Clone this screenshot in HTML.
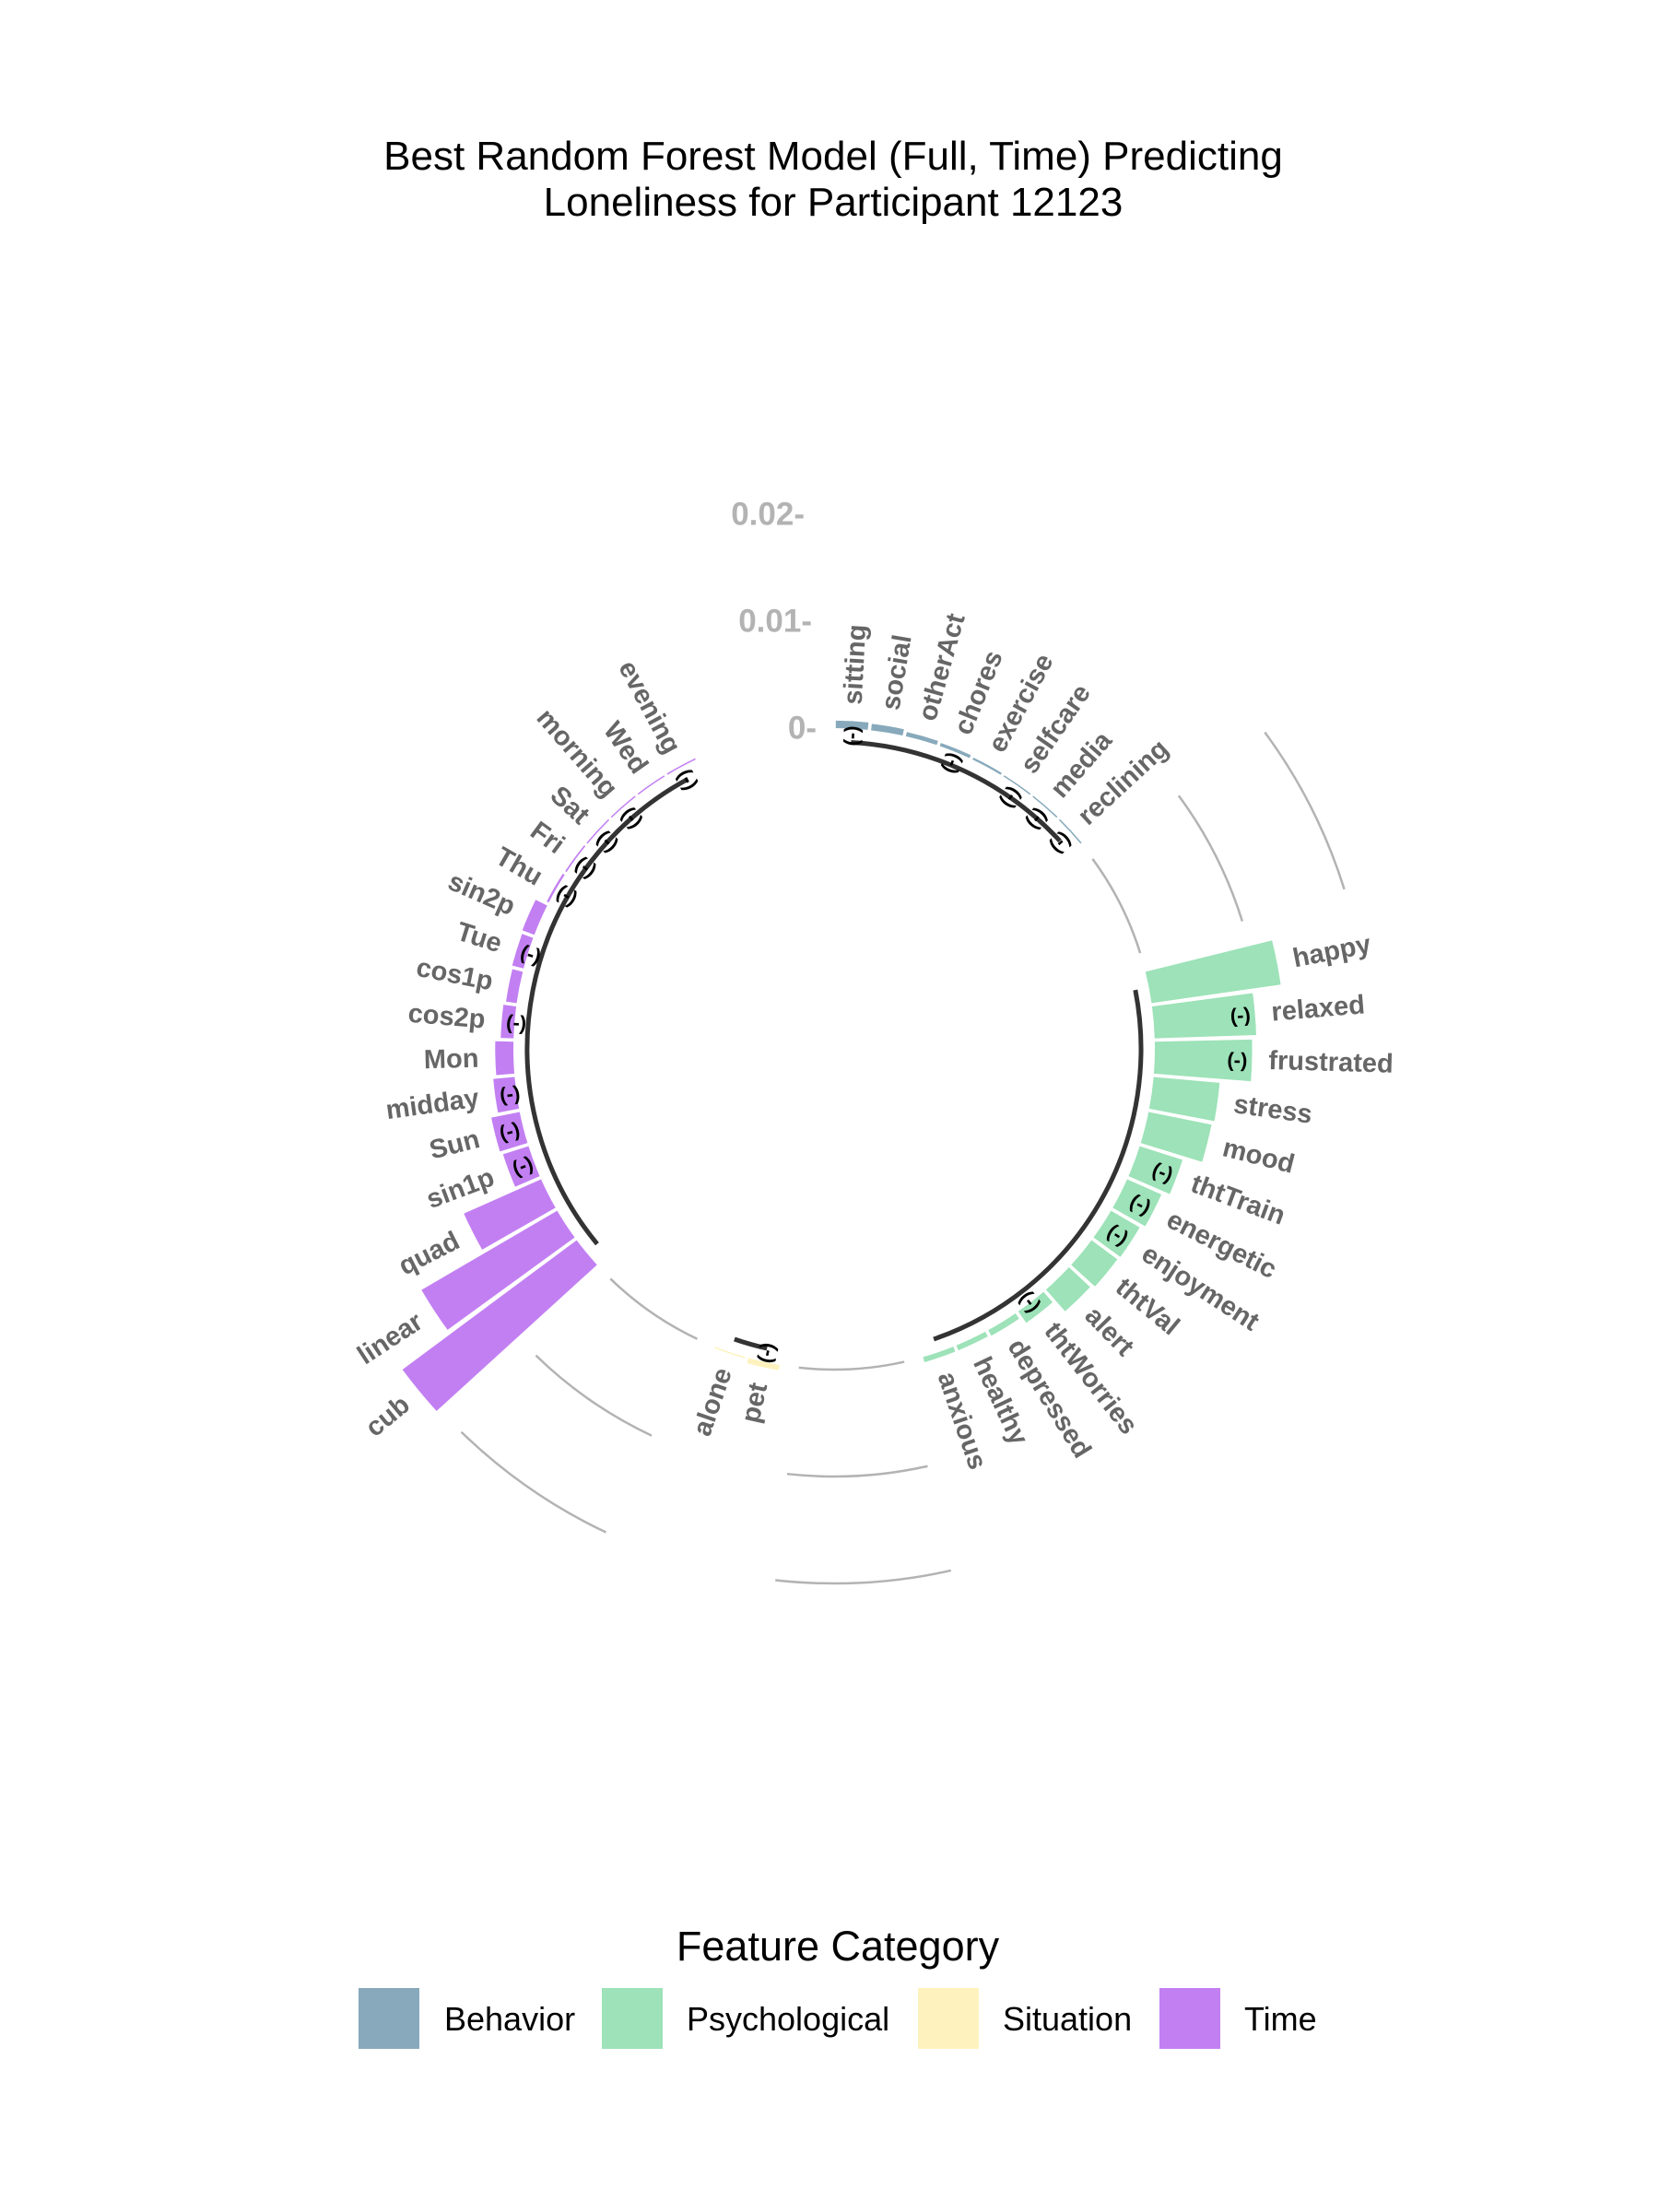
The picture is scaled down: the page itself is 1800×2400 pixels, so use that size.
<!DOCTYPE html>
<html>
<head>
<meta charset="utf-8">
<style>
  html, body { margin: 0; padding: 0; background: #ffffff; }
  svg { display: block; }
  text { font-family: "Liberation Sans", "DejaVu Sans", sans-serif; }
</style>
</head>
<body>
<svg id="chart" width="1800" height="2400" viewBox="0 0 1800 2400" xmlns="http://www.w3.org/2000/svg">
  <rect x="0" y="0" width="1800" height="2400" fill="#ffffff"/>
  <g>
    <text x="904" y="184" font-size="44" text-anchor="middle" fill="#000">Best Random Forest Model (Full, Time) Predicting</text>
    <text x="904" y="234" font-size="44" text-anchor="middle" fill="#000">Loneliness for Participant 12123</text>
  </g>
  <g id="grid"></g>
  <g id="bars"></g>
  <g id="baselines"></g>
  <g id="labels"></g>
  <g id="neg"></g>
  <g id="yaxis"></g>
  <g>
    <text x="909" y="2127" font-size="45" text-anchor="middle" fill="#000">Feature Category</text>
    <rect x="389" y="2157" width="66" height="66" fill="#87a9bb"/>
    <text x="482" y="2203" font-size="36" fill="#000">Behavior</text>
    <rect x="653" y="2157" width="66" height="66" fill="#9de2b8"/>
    <text x="745" y="2203" font-size="36" fill="#000">Psychological</text>
    <rect x="996" y="2157" width="66" height="66" fill="#fef3be"/>
    <text x="1088" y="2203" font-size="36" fill="#000">Situation</text>
    <rect x="1258" y="2157" width="66" height="66" fill="#c27ff2"/>
    <text x="1350" y="2203" font-size="36" fill="#000">Time</text>
  </g>
</svg>
<script>
// ---- data ----
const behaviorFeatures = ["sitting","social","otherAct","chores","exercise","selfcare","media","reclining"];
const behaviorValues   = [0.0007, 0.0006, 0.0004, 0.0003, 0.0002, 0.00012, 0.00006, 0.00002];
const behaviorNegative = [true, false, false, true, false, true, true, true];

const psychFeatures = ["happy","relaxed","frustrated","stress","mood","thtTrain","energetic","enjoyment","thtVal","alert","thtWorries","depressed","healthy","anxious"];
const psychValues   = [0.0122, 0.0095, 0.0091, 0.0062, 0.0060, 0.0042, 0.0035, 0.0031, 0.0030, 0.0027, 0.0013, 0.0006, 0.0005, 0.0005];
const psychNegative = [false, true, true, false, false, true, true, true, false, false, true, false, false, false];

const situationFeatures = ["pet","alone"];
const situationValues   = [0.0005, 0.0001];
const situationNegative = [true, false];

const timeFeatures = ["cub","linear","quad","sin1p","Sun","midday","Mon","cos2p","cos1p","Tue","sin2p","Thu","Fri","Sat","morning","Wed","evening"];
const timeValues   = [0.0203, 0.0147, 0.0079, 0.0025, 0.0027, 0.0020, 0.0017, 0.0012, 0.0010, 0.0011, 0.0012, 0.0002, 0.00015, 0.00012, 0.0001, 0.00008, 0.00005];
const timeNegative = [false, false, false, true, true, true, false, true, false, true, false, true, true, true, true, false, true];

const yTicks = [0, 0.01, 0.02];
const yTickLabels = ["0-", "0.01-", "0.02-"];

// ---- layout ----
const NS = "http://www.w3.org/2000/svg";
const CX = 905, CY = 1138, R0 = 348, PX_PER_UNIT = 11600;
const GAP = 4;
const groups = [
  {name: "behavior", feats: behaviorFeatures, vals: behaviorValues, neg: behaviorNegative, color: "#87a9bb"},
  {name: "psychological", feats: psychFeatures, vals: psychValues, neg: psychNegative, color: "#9de2b8"},
  {name: "situation", feats: situationFeatures, vals: situationValues, neg: situationNegative, color: "#fef3be"},
  {name: "time", feats: timeFeatures, vals: timeValues, neg: timeNegative, color: "#c27ff2"}
];
let totalSlots = 0;
groups.forEach(g => { g.start = totalSlots; totalSlots += g.feats.length; g.end = totalSlots - 1; totalSlots += GAP; });
const W = 360 / totalSlots;
const PAD = 0.3;

function rScale(v) { return R0 + v * PX_PER_UNIT; }
function angOf(slot) { return (slot + 0.5) * W; }
function pt(theta, r) {
  const t = theta * Math.PI / 180;
  return [CX + r * Math.sin(t), CY - r * Math.cos(t)];
}
function arcPath(a1, a2, r) {
  const p1 = pt(a1, r), p2 = pt(a2, r);
  const large = (a2 - a1) > 180 ? 1 : 0;
  return `M${p1[0].toFixed(2)},${p1[1].toFixed(2)} A${r},${r} 0 ${large} 1 ${p2[0].toFixed(2)},${p2[1].toFixed(2)}`;
}
function sectorPath(a1, a2, r1, r2) {
  const p1 = pt(a1, r1), p2 = pt(a1, r2), p3 = pt(a2, r2), p4 = pt(a2, r1);
  return `M${p1[0]},${p1[1]} L${p2[0]},${p2[1]} A${r2},${r2} 0 0 1 ${p3[0]},${p3[1]} L${p4[0]},${p4[1]} A${r1},${r1} 0 0 0 ${p1[0]},${p1[1]} Z`;
}

const gGrid = document.getElementById("grid");
const gBars = document.getElementById("bars");
const gBase = document.getElementById("baselines");
const gLab = document.getElementById("labels");
const gNeg = document.getElementById("neg");
const gY = document.getElementById("yaxis");

for (let gi = 1; gi < groups.length; gi++) {
  const a1 = angOf(groups[gi - 1].end + 1), a2 = angOf(groups[gi].start - 1);
  yTicks.forEach(v => {
    const p = document.createElementNS(NS, "path");
    p.setAttribute("d", arcPath(a1, a2, rScale(v)));
    p.setAttribute("fill", "none");
    p.setAttribute("stroke", "#b3b3b3");
    p.setAttribute("stroke-width", "2.5");
    
    
    gGrid.appendChild(p);
  });
}

groups.forEach(g => {
  g.feats.forEach((f, i) => {
    const slot = g.start + i;
    const th = angOf(slot);
    const v = g.vals[i];
    const rOut = rScale(v);
    const bar = document.createElementNS(NS, "path");
    bar.setAttribute("d", sectorPath(th - W / 2 + PAD, th + W / 2 - PAD, R0, Math.max(rOut, R0 + 1.5)));
    bar.setAttribute("fill", g.color);
    
    
    gBars.appendChild(bar);
    const right = th < 180;
    const rot = right ? th - 90 : th + 90;
    const lp = pt(th, rOut + 18);
    const t = document.createElementNS(NS, "text");
    t.setAttribute("x", lp[0].toFixed(2));
    t.setAttribute("y", lp[1].toFixed(2));
    t.setAttribute("transform", `rotate(${rot.toFixed(2)} ${lp[0].toFixed(2)} ${lp[1].toFixed(2)})`);
    t.setAttribute("text-anchor", right ? "start" : "end");
    t.setAttribute("dominant-baseline", "central");
    t.setAttribute("font-size", "29");
    t.setAttribute("font-weight", "bold");
    t.setAttribute("fill", "#666666");
    t.textContent = f;
    
    
    gLab.appendChild(t);
    if (g.neg[i]) {
      const np = pt(th, rOut - 16);
      const n = document.createElementNS(NS, "text");
      n.setAttribute("x", np[0].toFixed(2));
      n.setAttribute("y", np[1].toFixed(2));
      n.setAttribute("transform", `rotate(${rot.toFixed(2)} ${np[0].toFixed(2)} ${np[1].toFixed(2)})`);
      n.setAttribute("text-anchor", "middle");
      n.setAttribute("dominant-baseline", "central");
      n.setAttribute("font-size", "22");
      n.setAttribute("font-weight", "bold");
      n.setAttribute("fill", "#000000");
      n.textContent = "(-)";
      
      
      gNeg.appendChild(n);
    }
  });
  const b = document.createElementNS(NS, "path");
  b.setAttribute("d", arcPath(angOf(g.start), angOf(g.end), R0 - 15));
  b.setAttribute("fill", "none");
  b.setAttribute("stroke", "#333333");
  b.setAttribute("stroke-width", "5");
  
  
  gBase.appendChild(b);
});

const yEnds = [886, 881, 873];
yTicks.forEach((v, i) => {
  const t = document.createElementNS(NS, "text");
  t.setAttribute("x", yEnds[i]);
  t.setAttribute("y", (CY - rScale(v)).toFixed(2));
  t.setAttribute("text-anchor", "end");
  t.setAttribute("dominant-baseline", "central");
  t.setAttribute("font-size", "35");
  t.setAttribute("font-weight", "bold");
  t.setAttribute("fill", "#b3b3b3");
  t.textContent = yTickLabels[i];
  
  
  gY.appendChild(t);
});
</script>
</body>
</html>
